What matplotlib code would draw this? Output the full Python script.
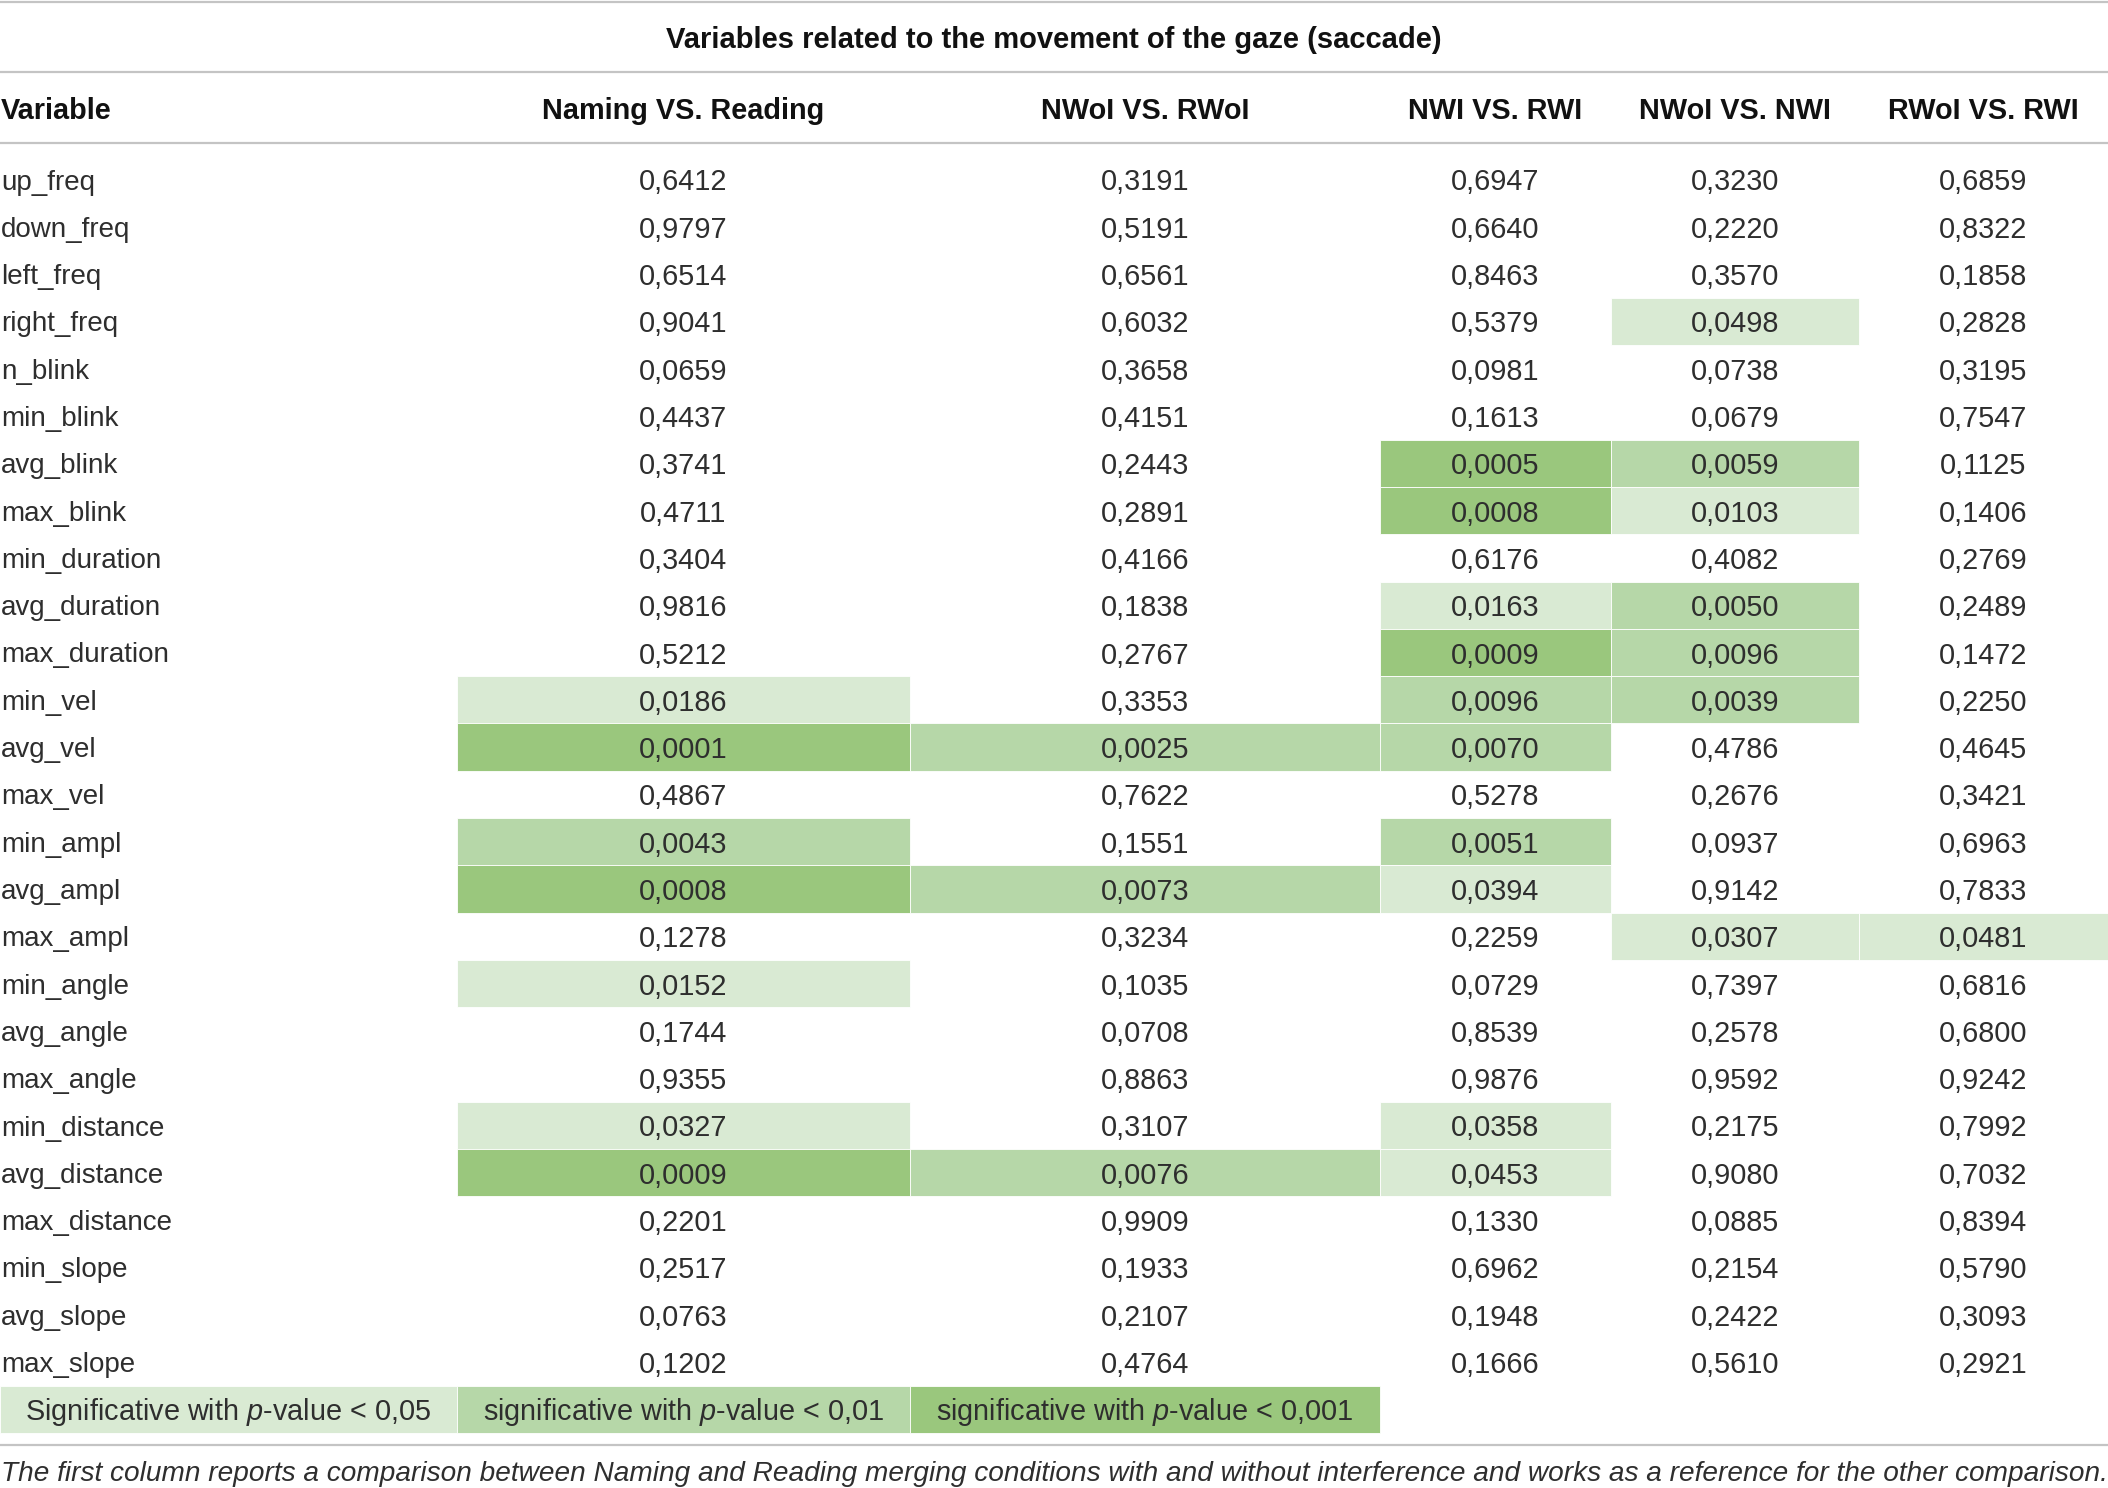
import matplotlib
matplotlib.use('Agg')
import matplotlib.pyplot as plt
from matplotlib.patches import Rectangle

plt.rcParams['font.family'] = ['Liberation Sans', 'DejaVu Sans']
plt.rcParams['mathtext.fontset'] = 'custom'
plt.rcParams['mathtext.rm'] = 'Liberation Sans'
plt.rcParams['mathtext.it'] = 'Liberation Sans:italic'

# ── data ──────────────────────────────────────────────────────────────────────
variables = ['up_freq', 'down_freq', 'left_freq', 'right_freq', 'n_blink',
             'min_blink', 'avg_blink', 'max_blink', 'min_duration',
             'avg_duration', 'max_duration', 'min_vel', 'avg_vel', 'max_vel',
             'min_ampl', 'avg_ampl', 'max_ampl', 'min_angle', 'avg_angle',
             'max_angle', 'min_distance', 'avg_distance', 'max_distance',
             'min_slope', 'avg_slope', 'max_slope']

comparisons = ['Naming VS. Reading', 'NWoI VS. RWoI', 'NWI VS. RWI',
               'NWoI VS. NWI', 'RWoI VS. RWI']

naming_vs_reading = [0.6412, 0.9797, 0.6514, 0.9041, 0.0659, 0.4437, 0.3741,
                     0.4711, 0.3404, 0.9816, 0.5212, 0.0186, 0.0001, 0.4867,
                     0.0043, 0.0008, 0.1278, 0.0152, 0.1744, 0.9355, 0.0327,
                     0.0009, 0.2201, 0.2517, 0.0763, 0.1202]
nwoi_vs_rwoi = [0.3191, 0.5191, 0.6561, 0.6032, 0.3658, 0.4151, 0.2443,
                0.2891, 0.4166, 0.1838, 0.2767, 0.3353, 0.0025, 0.7622,
                0.1551, 0.0073, 0.3234, 0.1035, 0.0708, 0.8863, 0.3107,
                0.0076, 0.9909, 0.1933, 0.2107, 0.4764]
nwi_vs_rwi = [0.6947, 0.6640, 0.8463, 0.5379, 0.0981, 0.1613, 0.0005,
              0.0008, 0.6176, 0.0163, 0.0009, 0.0096, 0.0070, 0.5278,
              0.0051, 0.0394, 0.2259, 0.0729, 0.8539, 0.9876, 0.0358,
              0.0453, 0.1330, 0.6962, 0.1948, 0.1666]
nwoi_vs_nwi = [0.3230, 0.2220, 0.3570, 0.0498, 0.0738, 0.0679, 0.0059,
               0.0103, 0.4082, 0.0050, 0.0096, 0.0039, 0.4786, 0.2676,
               0.0937, 0.9142, 0.0307, 0.7397, 0.2578, 0.9592, 0.2175,
               0.9080, 0.0885, 0.2154, 0.2422, 0.5610]
rwoi_vs_rwi = [0.6859, 0.8322, 0.1858, 0.2828, 0.3195, 0.7547, 0.1125,
               0.1406, 0.2769, 0.2489, 0.1472, 0.2250, 0.4645, 0.3421,
               0.6963, 0.7833, 0.0481, 0.6816, 0.6800, 0.9242, 0.7992,
               0.7032, 0.8394, 0.5790, 0.3093, 0.2921]

legend_labels = ['Significative with $p$-value < 0,05',
                 'significative with $p$-value < 0,01',
                 'significative with $p$-value < 0,001']

title = 'Variables related to the movement of the gaze (saccade)'
caption = ('The first column reports a comparison between Naming and Reading '
           'merging conditions with and without interference and works as a '
           'reference for the other comparison.')

# ── palette / geometry ────────────────────────────────────────────────────────
C_LIGHT = '#D9EAD3'
C_MID = '#B6D7A8'
C_DARK = '#9AC77D'
C_LINE = '#C4C4C4'
C_TEXT = '#2E2E2E'
C_HEAD = '#111111'

W, H = 2108, 1488
COL_X = [0, 457, 910, 1380, 1611, 1859, 2108]   # column boundaries (px)
ROW0 = 179.5                                     # first row centre
ROW_H = 47.3
DY = 3                                           # optical shift for va='center'
FS = 20
FS_NUM = 20.8
FS_HEAD = 20.8
FS_TITLE = 21


def shade(p):
    if p < 0.001:
        return C_DARK
    if p < 0.01:
        return C_MID
    if p < 0.05:
        return C_LIGHT
    return None


def fmt(p):
    return f'{p:.4f}'.replace('.', ',')


fig = plt.figure(figsize=(W / 100, H / 100), dpi=100)
fig.patch.set_facecolor('white')
ax = fig.add_axes([0, 0, 1, 1])
ax.set_xlim(0, W)
ax.set_ylim(H, 0)
ax.axis('off')

# ── rules ─────────────────────────────────────────────────────────────────────
for y in (1.5, 71.5, 143, 1444.5):
    ax.plot([0, W], [y, y], color=C_LINE, lw=1.6, solid_capstyle='butt')

# ── title + header ────────────────────────────────────────────────────────────
ax.text(W / 2, 36.5 + DY, title, ha='center', va='center', fontsize=FS_TITLE,
        fontweight='bold', color=C_HEAD)
ax.text(1, 108 + DY, 'Variable', ha='left', va='center', fontsize=FS_HEAD,
        fontweight='bold', color=C_HEAD)
for j, name in enumerate(comparisons):
    cx = (COL_X[j + 1] + COL_X[j + 2]) / 2
    ax.text(cx, 108 + DY, name, ha='center', va='center', fontsize=FS_HEAD,
            fontweight='bold', color=C_HEAD)

# ── body ──────────────────────────────────────────────────────────────────────
series = [naming_vs_reading, nwoi_vs_rwoi, nwi_vs_rwi, nwoi_vs_nwi, rwoi_vs_rwi]
for i, var in enumerate(variables):
    cy = ROW0 + i * ROW_H
    ax.text(1, cy + DY, var, ha='left', va='center', fontsize=FS, color=C_TEXT)
    for j, vals in enumerate(series):
        x0, x1 = COL_X[j + 1], COL_X[j + 2]
        col = shade(vals[i])
        if col:
            ax.add_patch(Rectangle((x0, cy - ROW_H / 2), x1 - x0, ROW_H,
                                   facecolor=col, edgecolor='white', lw=0.6,
                                   zorder=1))
        ax.text((x0 + x1) / 2, cy + DY, fmt(vals[i]), ha='center', va='center',
                fontsize=FS_NUM, color=C_TEXT, zorder=3)

# ── legend row ────────────────────────────────────────────────────────────────
ly = ROW0 + len(variables) * ROW_H
for k, (lab, col) in enumerate(zip(legend_labels, [C_LIGHT, C_MID, C_DARK])):
    x0, x1 = COL_X[k], COL_X[k + 1]
    ax.add_patch(Rectangle((x0, ly - ROW_H / 2), x1 - x0, ROW_H,
                           facecolor=col, edgecolor='white', lw=0.6, zorder=1))
    ax.text((x0 + x1) / 2, ly + DY, lab, ha='center', va='center',
            fontsize=FS_NUM, color=C_TEXT, zorder=3)

# ── caption (fit to width) ────────────────────────────────────────────────────
cap = ax.text(1, 1471 + DY, caption, ha='left', va='center', fontsize=FS,
              style='italic', color=C_TEXT)
fig.canvas.draw()
bw = cap.get_window_extent().width
cap.set_fontsize(FS * (W - 5) / bw)

fig.savefig('out.png', dpi=100, facecolor='white')
plt.close(fig)
